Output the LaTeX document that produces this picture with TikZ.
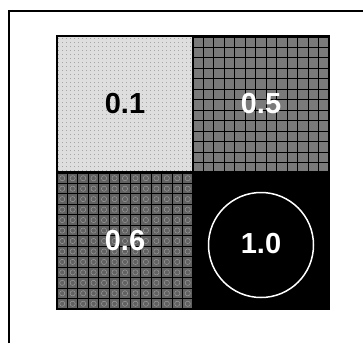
\documentclass[tikz,border=0pt]{standalone}
\usepackage{fontspec}
\setmainfont{Liberation Sans}
\newcommand{\cellfont}{\fontsize{29}{33}\selectfont\bfseries}
\begin{document}
\begin{tikzpicture}[x=1pt,y=-1pt,
  cell/.style={draw=black,line width=1.6pt,minimum width=136pt,minimum height=136pt,inner sep=0pt,font=\cellfont},
  gridline/.style={black,line width=0.9pt},
  ring/.style={draw=white,line width=1.5pt,circle,minimum size=105pt,inner sep=0pt,font=\cellfont}]
\useasboundingbox (0,0) rectangle (363,343);
% frame
\draw[line width=2pt] (9,343) -- (9,11) -- (363,11);
% fills
\fill[black!13] (57,37) rectangle (193,173);
\fill[black!52] (193,37) rectangle (329,173);
\fill[black!62] (57,173) rectangle (193,309);
\fill[black] (193,173) rectangle (329,309);
% speckle on light cell
\begin{scope}
\clip (57,37) rectangle (193,173);
\foreach \i in {0,...,33} \foreach \j in {0,...,33} {
  \fill[black!35] ({58+\i*4},{38+\j*4}) rectangle ++(1.2,1.2);
}
\end{scope}
% grid patterns
\begin{scope}
\clip (193,37) rectangle (329,173);
\foreach \i in {0,...,13} {
  \draw[gridline] ({193+\i*10.46},37) -- ({193+\i*10.46},173);
  \draw[gridline] (193,{37+\i*10.46}) -- (329,{37+\i*10.46});
}
\end{scope}
\begin{scope}
\clip (57,173) rectangle (193,309);
\foreach \i in {0,...,13} {
  \draw[gridline,line width=1.1pt] ({57+\i*10.46},173) -- ({57+\i*10.46},309);
  \draw[gridline,line width=1.1pt] (57,{173+\i*10.46}) -- (193,{173+\i*10.46});
}
\foreach \i in {0,...,12} \foreach \j in {0,...,12} {
  \draw[black!40,line width=0.5pt] ({57+5.23+\i*10.46},{173+5.23+\j*10.46}) circle (2.6);
}
\end{scope}
% cells
\node[cell,text=black] (a) at (125,104) {0.1};
\node[cell,text=white] (b) at (261,104) {0.5};
\node[cell,text=white] (c) at (125,241) {0.6};
\node[cell,text=white] (d) at (261,241) {};
\node[ring,text=white] (e) at (261,245) {\raisebox{4pt}{1.0}};
\end{tikzpicture}
\end{document}
